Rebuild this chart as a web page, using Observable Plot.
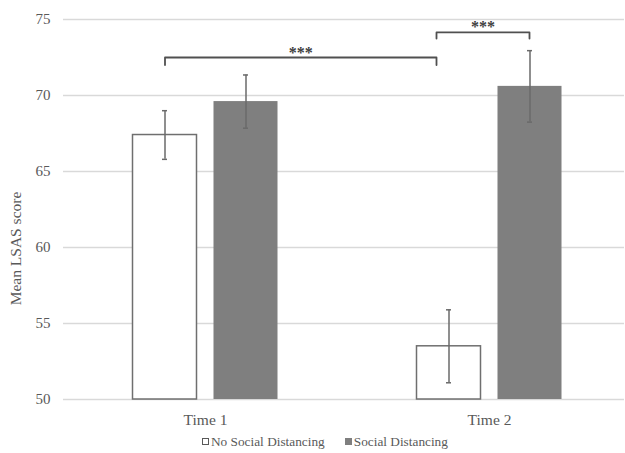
<!DOCTYPE html>
<html>
<head>
<meta charset="utf-8">
<script src="https://cdn.jsdelivr.net/npm/d3@7"></script>
<script src="https://cdn.jsdelivr.net/npm/@observablehq/plot@0.6"></script>
<style>
  body { margin: 0; background: #fff; }
  #chart { width: 625px; font-family: "Liberation Serif", Tinos, "Times New Roman", Times, "Nimbus Roman", "DejaVu Serif", serif; color: #595959; }
  #chart svg, #chart svg text { font-family: "Liberation Serif", Tinos, "Times New Roman", Times, "Nimbus Roman", "DejaVu Serif", serif !important; }
  .legend { height: 23px; line-height: 24px; font-size: 13.3px; padding-left: 202px; display: flex; align-items: center; }
  .legend .item { display: flex; align-items: center; }
  .legend .sw { width: 7px; height: 7px; box-sizing: border-box; margin-right: 2px; }
</style>
</head>
<body>
<div id="chart"></div>
<script>
// ---- data ----
const times = ["Time 1", "Time 2"];
const seriesNames = ["No Social Distancing", "Social Distancing"];
const noSDMean = [67.4, 53.5];
const noSDErr = [1.6, 2.4];
const sdMean = [69.6, 70.6];
const sdErr = [1.75, 2.35];
const yTicks = [50, 55, 60, 65, 70, 75];
const sigLabels = ["***", "***"];
const yLabel = "Mean LSAS score";

// ---- layout constants (styles) ----
const serif = '"Liberation Serif", Tinos, "Times New Roman", Times, "Nimbus Roman", "DejaVu Serif", serif';
const textColor = "#595959";
const pxPerUnit = 284;
const barW = 64 / pxPerUnit;
const off = 40.5 / pxPerUnit;
const capW = 5 / pxPerUnit;
const seriesOffset = [-off, off];
const fills = ["#ffffff", "#7f7f7f"];
const strokes = ["#6f6f6f", "none"];

const rows = [];
times.forEach((t, i) => {
  rows.push({time: t, t: i + 1, s: 0, series: seriesNames[0], v: noSDMean[i], e: noSDErr[i]});
  rows.push({time: t, t: i + 1, s: 1, series: seriesNames[1], v: sdMean[i], e: sdErr[i]});
});
const cx = d => d.t + seriesOffset[d.s];

// significance brackets (anchored to bars / group)
const brackets = [
  {id: 0, xa: 1 + seriesOffset[0], xb: 2 - 53 / pxPerUnit, yTop: 72.5, yLow: 72.0, label: sigLabels[0]},
  {id: 1, xa: 2 - 53 / pxPerUnit, xb: 2 + seriesOffset[1] - 0.5 / pxPerUnit, yTop: 74.15, yLow: 73.75, label: sigLabels[1]}
];
const bracketPts = brackets.flatMap(b => [
  {id: b.id, x: b.xa, y: b.yLow}, {id: b.id, x: b.xa, y: b.yTop},
  {id: b.id, x: b.xb, y: b.yTop}, {id: b.id, x: b.xb, y: b.yLow}
]);

const chart = Plot.plot({
  width: 625,
  height: 430,
  marginLeft: 63,
  marginRight: 1,
  marginTop: 19,
  marginBottom: 31,
  style: {fontFamily: serif, color: textColor, background: "#fff"},
  x: {type: "linear", domain: [0.5, 1 + (624 - 205) / pxPerUnit], axis: null},
  y: {domain: [50, 75], axis: null},
  marks: [
    Plot.ruleY(yTicks, {stroke: "#d9d9d9", strokeWidth: 1.3}),
    Plot.rect(rows, {
      x1: d => cx(d) - barW / 2, x2: d => cx(d) + barW / 2,
      y1: 50, y2: "v",
      fill: d => fills[d.s], stroke: d => strokes[d.s], strokeWidth: 1.5
    }),
    Plot.ruleX(rows, {x: cx, y1: d => d.v - d.e, y2: d => d.v + d.e, stroke: "#6a6a6a", strokeWidth: 1.5}),
    Plot.ruleY(rows, {y: d => d.v - d.e, x1: d => cx(d) - capW / 2, x2: d => cx(d) + capW / 2, stroke: "#6a6a6a", strokeWidth: 1.5}),
    Plot.ruleY(rows, {y: d => d.v + d.e, x1: d => cx(d) - capW / 2, x2: d => cx(d) + capW / 2, stroke: "#6a6a6a", strokeWidth: 1.5}),
    Plot.line(bracketPts, {x: "x", y: "y", z: "id", stroke: "#505050", strokeWidth: 1.8}),
    Plot.text(brackets, {x: d => (d.xa + d.xb) / 2, y: "yTop", text: "label", lineAnchor: "bottom", dy: 0, fontSize: 16, fontWeight: "bold", fill: "#404040", fontFamily: serif}),
    Plot.axisX({ticks: [1, 2], tickFormat: i => times[i - 1], tickSize: 0, tickPadding: 14, fontSize: 15.5, fill: textColor, label: null, fontFamily: serif}),
    Plot.axisY({ticks: yTicks, tickSize: 0, tickPadding: 13, fontSize: 15, fill: textColor, label: null, fontFamily: serif}),
    Plot.text([yLabel], {frameAnchor: "left", dx: -47, dy: 39, rotate: -90, fontSize: 15.5, fill: textColor, textAnchor: "middle", lineAnchor: "middle", fontFamily: serif})
  ]
});

const root = document.getElementById("chart");
root.appendChild(chart);

const legend = document.createElement("div");
legend.className = "legend";
seriesNames.forEach((name, i) => {
  const item = document.createElement("span");
  item.className = "item";
  if (i > 0) item.style.marginLeft = "20px";
  const sw = document.createElement("span");
  sw.className = "sw";
  sw.style.background = fills[i];
  sw.style.border = i === 0 ? "1px solid #595959" : "none";
  item.appendChild(sw);
  item.appendChild(document.createTextNode(name));
  legend.appendChild(item);
});
root.appendChild(legend);
</script>
</body>
</html>
